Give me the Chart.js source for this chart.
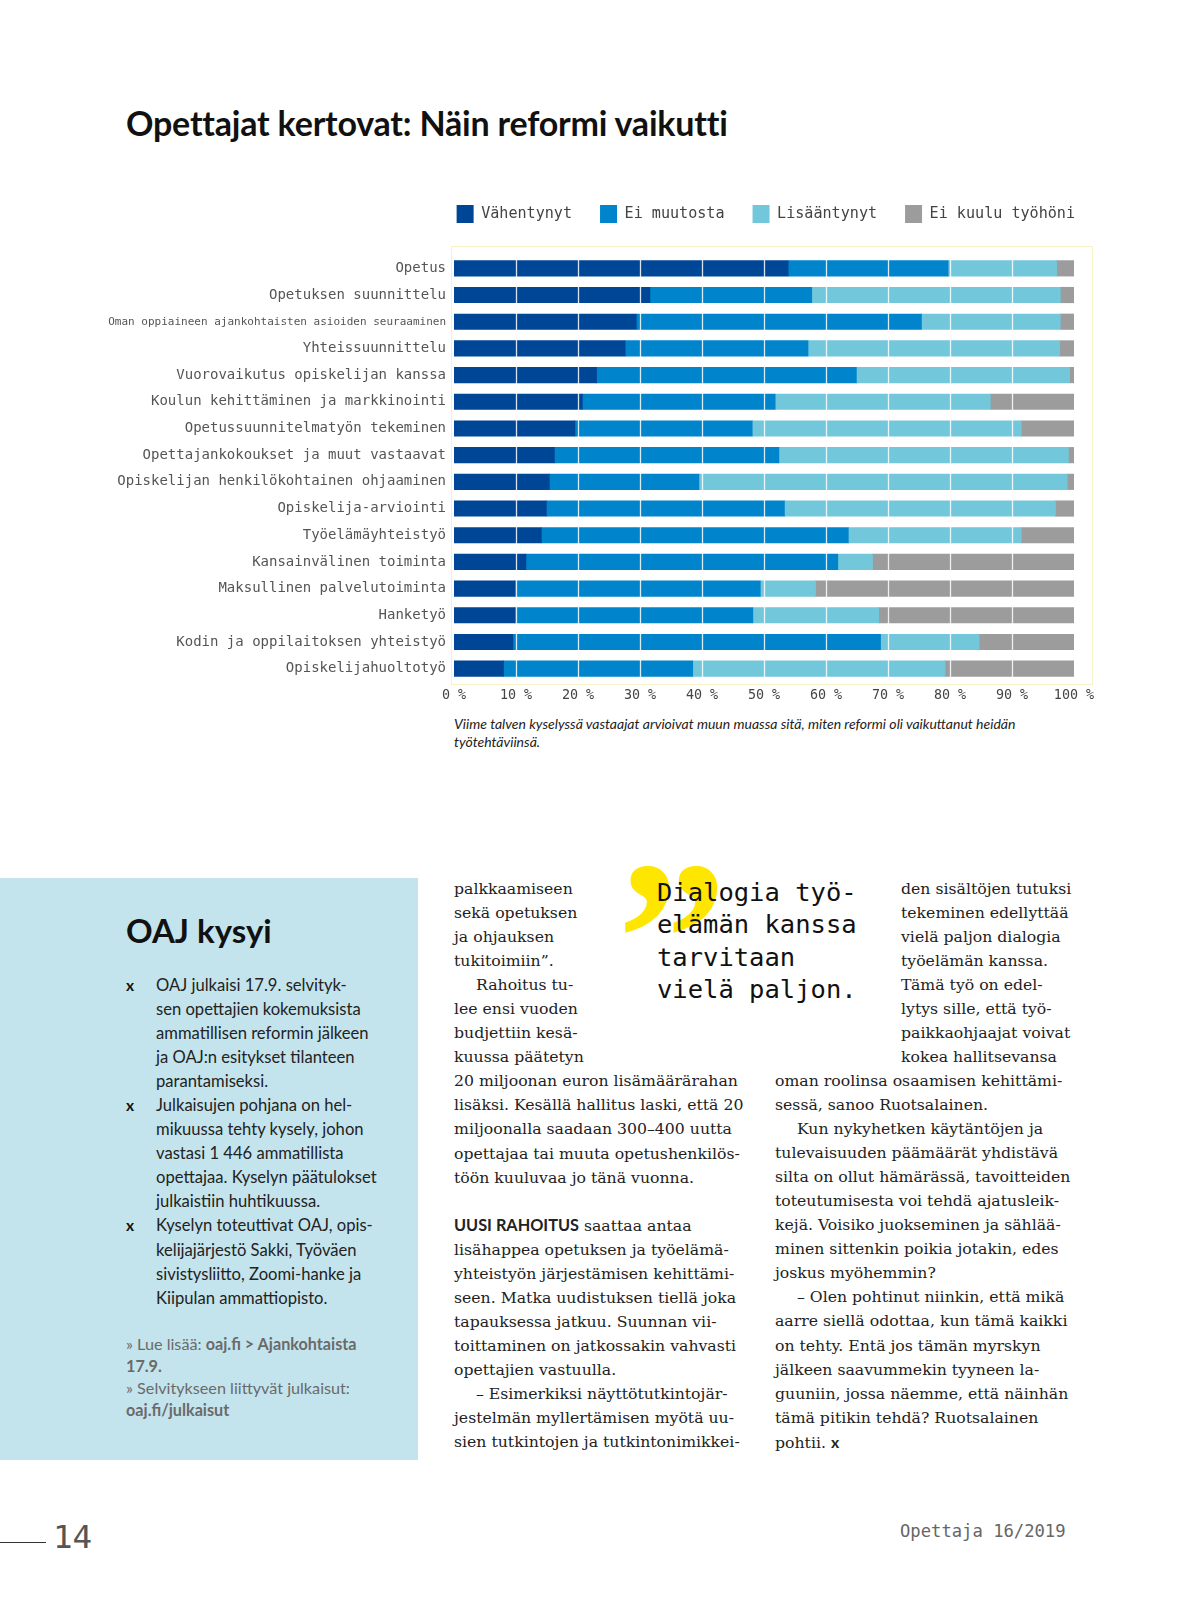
<!DOCTYPE html>
<html lang="fi">
<head>
<meta charset="UTF-8">
<title>Opettajat kertovat: Näin reformi vaikutti</title>
<script src="https://cdn.jsdelivr.net/npm/chart.js"></script>
<style>
  body { margin: 0; background: #fff; }
  .sivu { position: relative; width: 1198px; height: 1598px; overflow: hidden; background: #fff; }
  .abs { position: absolute; white-space: nowrap; }
  h1 { position: absolute; left: 126px; top: 102px; margin: 0; font: 700 34px Lato, sans-serif; color: #111; letter-spacing: -0.2px; }
  #kaavio { position: absolute; left: 100px; top: 177px; width: 1003px; height: 531px; }
  .kuvateksti { position: absolute; left: 454px; top: 715px; width: 590px; font: italic 14px/17.5px Lato, sans-serif; color: #222; }
  .laatikko { position: absolute; left: 0; top: 878px; width: 418px; height: 582px; background: #c4e4ed; }
  .laatikko h2 { position: absolute; left: 126px; top: 32px; margin: 0; font: 700 33px Lato, sans-serif; color: #111; }
  .lista { position: absolute; left: 156px; top: 95px; font: 16.6px/24.05px Lato, sans-serif; color: #222; white-space: nowrap; }
  .kohta { position: relative; }
  .x { position: absolute; left: -30px; top: 0; font: 700 15.5px/24.05px Lato, sans-serif; color: #111; }
  .linkit { position: absolute; left: 126px; top: 455px; font: 16.2px/22.1px Lato, sans-serif; color: #6a6a6a; white-space: nowrap; }
  .leipa { position: absolute; font: 15.7px/24.05px "DejaVu Serif", serif; color: #222; white-space: nowrap; }
  .sis { padding-left: 22px; }
  .vali { font: 700 16.3px Lato, sans-serif; }
  .lainaus { position: absolute; left: 657px; top: 876px; font: 25.5px/32.3px "DejaVu Sans Mono", monospace; color: #111; white-space: nowrap; }
  .merkki { position: absolute; left: 617px; top: 829px; font: 700 220px/1 "Liberation Serif", serif; color: #ffe600; }
</style>
</head>
<body>
<div class="sivu">
  <h1>Opettajat kertovat: Näin reformi vaikutti</h1>
  <canvas id="kaavio" width="1003" height="531"></canvas>
  <div class="kuvateksti">Viime talven kyselyssä vastaajat arvioivat muun muassa sitä, miten reformi oli vaikuttanut heidän työtehtäviinsä.</div>

  <div class="laatikko">
    <h2>OAJ kysyi</h2>
    <div class="lista">
      <div class="kohta"><span class="x">x</span>OAJ julkaisi 17.9. selvityk-<br>sen opettajien kokemuksista<br>ammatillisen reformin jälkeen<br>ja OAJ:n esitykset tilanteen<br>parantamiseksi.</div>
      <div class="kohta"><span class="x">x</span>Julkaisujen pohjana on hel-<br>mikuussa tehty kysely, johon<br>vastasi 1 446 ammatillista<br>opettajaa. Kyselyn päätulokset<br>julkaistiin huhtikuussa.</div>
      <div class="kohta"><span class="x">x</span>Kyselyn toteuttivat OAJ, opis-<br>kelijajärjestö Sakki, Työväen<br>sivistysliitto, Zoomi-hanke ja<br>Kiipulan ammattiopisto.</div>
    </div>
    <div class="linkit">» Lue lisää: <b>oaj.fi &gt; Ajankohtaista<br>17.9.</b><br>» Selvitykseen liittyvät julkaisut:<br><b>oaj.fi/julkaisut</b></div>
  </div>

  <div class="leipa" style="left:454px; top:877px">palkkaamiseen<br>sekä opetuksen<br>ja ohjauksen<br>tukitoimiin”.<br><span class="sis">Rahoitus tu-</span><br>lee ensi vuoden<br>budjettiin kesä-<br>kuussa päätetyn<br>20 miljoonan euron lisämäärärahan<br>lisäksi. Kesällä hallitus laski, että 20<br>miljoonalla saadaan 300–400 uutta<br>opettajaa tai muuta opetushenkilös-<br>töön kuuluvaa jo tänä vuonna.<br><br><span class="vali">UUSI RAHOITUS</span> saattaa antaa<br>lisähappea opetuksen ja työelämä-<br>yhteistyön järjestämisen kehittämi-<br>seen. Matka uudistuksen tiellä joka<br>tapauksessa jatkuu. Suunnan vii-<br>toittaminen on jatkossakin vahvasti<br>opettajien vastuulla.<br><span class="sis">– Esimerkiksi näyttötutkintojär-</span><br>jestelmän myllertämisen myötä uu-<br>sien tutkintojen ja tutkintonimikkei-</div>

  <div class="merkki">”</div>
  <div class="lainaus">Dialogia työ-<br>elämän kanssa<br>tarvitaan<br>vielä paljon.</div>

  <div class="leipa" style="left:901px; top:877px">den sisältöjen tutuksi<br>tekeminen edellyttää<br>vielä paljon dialogia<br>työelämän kanssa.<br>Tämä työ on edel-<br>lytys sille, että työ-<br>paikkaohjaajat voivat<br>kokea hallitsevansa</div>
  <div class="leipa" style="left:775px; top:1069px">oman roolinsa osaamisen kehittämi-<br>sessä, sanoo Ruotsalainen.<br><span class="sis">Kun nykyhetken käytäntöjen ja</span><br>tulevaisuuden päämäärät yhdistävä<br>silta on ollut hämärässä, tavoitteiden<br>toteutumisesta voi tehdä ajatusleik-<br>kejä. Voisiko juokseminen ja sählää-<br>minen sittenkin poikia jotakin, edes<br>joskus myöhemmin?<br><span class="sis">– Olen pohtinut niinkin, että mikä</span><br>aarre siellä odottaa, kun tämä kaikki<br>on tehty. Entä jos tämän myrskyn<br>jälkeen saavummekin tyyneen la-<br>guuniin, jossa näemme, että näinhän<br>tämä pitikin tehdä? Ruotsalainen<br>pohtii. <b style="font-family:Lato,sans-serif">x</b></div>

  <div class="abs" style="left:0; top:1542px; width:46px; border-top:1px solid #333"></div>
  <div class="abs" style="left:53px; top:1518px; font:32.6px 'DejaVu Sans Mono', monospace; color:#555">14</div>
  <div class="abs" style="left:900px; top:1521px; font:17.2px 'DejaVu Sans Mono', monospace; color:#666">Opettaja 16/2019</div>
</div>

<script>
  // kysymykset ylhäältä alas
  const tehtavat = [
    'Opetus',
    'Opetuksen suunnittelu',
    'Oman oppiaineen ajankohtaisten asioiden seuraaminen',
    'Yhteissuunnittelu',
    'Vuorovaikutus opiskelijan kanssa',
    'Koulun kehittäminen ja markkinointi',
    'Opetussuunnitelmatyön tekeminen',
    'Opettajankokoukset ja muut vastaavat',
    'Opiskelijan henkilökohtainen ohjaaminen',
    'Opiskelija-arviointi',
    'Työelämäyhteistyö',
    'Kansainvälinen toiminta',
    'Maksullinen palvelutoiminta',
    'Hanketyö',
    'Kodin ja oppilaitoksen yhteistyö',
    'Opiskelijahuoltotyö'
  ];

  // prosentit
  const vahentynyt   = [53.9, 31.6, 29.4, 27.6, 23.0, 20.7, 19.5, 16.2, 15.4, 14.9, 14.1, 11.6, 9.8, 9.8, 9.5, 8.0];
  const eiMuutosta   = [25.8, 26.1, 46.0, 29.5, 41.9, 31.1, 28.6, 36.2, 24.1, 38.4, 49.5, 50.3, 39.6, 38.4, 59.3, 30.5];
  const lisaantynyt  = [17.5, 40.1, 22.4, 40.6, 34.4, 34.7, 43.4, 46.7, 59.4, 43.7, 27.9, 5.6, 8.9, 20.3, 15.9, 40.7];
  const eiKuulu      = [2.8, 2.2, 2.2, 2.3, 0.7, 13.5, 8.5, 0.9, 1.1, 3.0, 8.5, 32.5, 41.7, 31.5, 15.3, 20.8];

  const xTikit = [0, 10, 20, 30, 40, 50, 60, 70, 80, 90, 100];

  const mono = '"DejaVu Sans Mono", monospace';

  // valkoiset apuviivat palkkien päälle + vaalea kehys
  const viivat = {
    id: 'viivat',
    beforeInit(chart) {
      const fit = chart.legend.fit;
      chart.legend.fit = function () { fit.bind(chart.legend)(); this.height = 78; };
    },
    beforeDraw(chart) {
      const a = chart.chartArea, c = chart.ctx;
      c.save();
      c.strokeStyle = '#f6f2c6';
      c.lineWidth = 1;
      c.strokeRect(a.left - 2.5, a.top - 8.5, a.right - a.left + 21, a.bottom - a.top + 11);
      c.restore();
    },
    afterDatasetsDraw(chart) {
      const a = chart.chartArea, c = chart.ctx, x = chart.scales.x;
      c.save();
      c.strokeStyle = 'rgba(255,255,255,0.85)';
      c.lineWidth = 1.3;
      xTikit.slice(1, -1).forEach(v => {
        const px = Math.round(x.getPixelForValue(v)) + 0.5;
        c.beginPath();
        c.moveTo(px, a.top);
        c.lineTo(px, a.bottom);
        c.stroke();
      });
      c.restore();
    }
  };

  new Chart(document.getElementById('kaavio'), {
    type: 'bar',
    data: {
      labels: tehtavat,
      datasets: [
        { label: 'Vähentynyt', data: vahentynyt, backgroundColor: '#004697' },
        { label: 'Ei muutosta', data: eiMuutosta, backgroundColor: '#0084cb' },
        { label: 'Lisääntynyt', data: lisaantynyt, backgroundColor: '#72c7da' },
        { label: 'Ei kuulu työhöni', data: eiKuulu, backgroundColor: '#9c9c9c' }
      ]
    },
    options: {
      indexAxis: 'y',
      responsive: false,
      animation: false,
      layout: { padding: 0 },
      datasets: { bar: { barThickness: 15.5, borderWidth: 0 } },
      plugins: {
        tooltip: { enabled: false },
        legend: {
          position: 'top',
          align: 'end',
          labels: {
            boxWidth: 17,
            boxHeight: 18,
            padding: 28,
            color: '#444',
            font: { family: mono, size: 15.1 }
          }
        }
      },
      scales: {
        x: {
          stacked: true,
          min: 0,
          max: 100,
          grid: { display: false, drawTicks: false },
          border: { display: false },
          afterFit(s) { s.paddingRight = 29; s.height = 26; },
          afterBuildTicks(s) { s.ticks = xTikit.map(v => ({ value: v })); },
          ticks: {
            padding: 5,
            color: '#444',
            font: { family: mono, size: 13.4 },
            callback: v => v + ' %'
          }
        },
        y: {
          stacked: true,
          grid: { display: false, drawTicks: false },
          border: { display: false },
          afterFit(s) { s.width = 354; },
          ticks: {
            padding: 8,
            color: '#555',
            font: ctx => ({ family: mono, size: ctx.index === 2 ? 11 : 14 })
          }
        }
      }
    },
    plugins: [viivat]
  });
</script>
</body>
</html>
